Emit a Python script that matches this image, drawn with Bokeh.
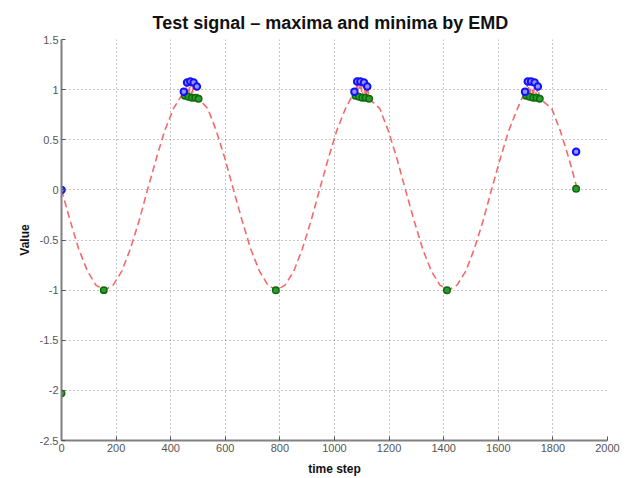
from bokeh.plotting import figure
from bokeh.models import FixedTicker, Range1d
from bokeh.embed import file_html
from bokeh.resources import INLINE

# Test signal samples (time step, value), with the ripple around each crest
signal_t = [0, 32, 63, 95, 126, 158, 189, 221, 252, 284, 315, 347, 378, 410,
            448, 452, 460, 465, 472, 478, 484, 490, 496, 502,
            536, 567, 599, 630, 662, 693, 725, 756, 788, 819, 851, 882, 914,
            945, 977, 1008, 1040,
            1073, 1077, 1083, 1090, 1095, 1102, 1108, 1114, 1120, 1127,
            1166, 1197, 1229, 1260, 1292, 1323, 1355, 1386, 1418, 1449, 1481,
            1512, 1544, 1575, 1607, 1638, 1670,
            1698, 1702, 1708, 1715, 1720, 1728, 1733, 1740, 1745, 1752,
            1796, 1827, 1859, 1890]
signal_v = [0.0, -0.31, -0.59, -0.81, -0.95, -1.0, -0.95, -0.81, -0.59, -0.31, 0.0, 0.31, 0.59, 0.81,
            0.98, 0.94, 1.07, 0.93, 1.08, 0.92, 1.07, 0.92, 1.03, 0.91,
            0.81, 0.59, 0.31, 0.0, -0.31, -0.59, -0.81, -0.95, -1.0, -0.95, -0.81, -0.59, -0.31,
            0.0, 0.31, 0.59, 0.81,
            0.98, 0.94, 1.08, 0.93, 1.08, 0.92, 1.07, 0.92, 1.03, 0.91,
            0.81, 0.59, 0.31, 0.0, -0.31, -0.59, -0.81, -0.95, -1.0, -0.95, -0.81,
            -0.59, -0.31, 0.0, 0.31, 0.59, 0.81,
            0.98, 0.94, 1.08, 0.93, 1.08, 0.92, 1.07, 0.92, 1.03, 0.91,
            0.81, 0.59, 0.31, 0.0]

# Extrema found by EMD
max_t = [0, 448, 460, 472, 484, 496, 1073, 1083, 1095, 1108, 1120,
         1698, 1708, 1720, 1733, 1745, 1885]
max_v = [0.0, 0.98, 1.07, 1.08, 1.07, 1.03, 0.98, 1.08, 1.08, 1.07, 1.03,
         0.98, 1.08, 1.08, 1.07, 1.03, 0.38]
min_t = [0, 155, 452, 465, 478, 490, 502, 785, 1077, 1090, 1102, 1114, 1127,
         1412, 1702, 1715, 1728, 1740, 1752, 1885]
min_v = [-2.03, -1.0, 0.94, 0.93, 0.92, 0.92, 0.91, -1.0, 0.94, 0.93, 0.92, 0.92, 0.91,
         -1.0, 0.94, 0.93, 0.92, 0.92, 0.91, 0.01]

x_ticks = [0, 200, 400, 600, 800, 1000, 1200, 1400, 1600, 1800, 2000]
y_ticks = [-2.5, -2, -1.5, -1, -0.5, 0, 0.5, 1, 1.5]
y_tick_labels = ["-2.5", "-2", "-1.5", "-1", "-0.5", "0", "0.5", "1", "1.5"]

FONT = "Liberation Sans"

p = figure(width=626, height=478, output_backend="svg", toolbar_location=None,
           x_range=Range1d(0, 2000), y_range=Range1d(-2.5, 1.5),
           min_border_left=61, min_border_right=19, min_border_top=39, min_border_bottom=37,
           title="Test signal \u2013 maxima and minima by EMD")
p.outline_line_color = None
p.background_fill_color = "white"
p.border_fill_color = "white"

p.title.text_font = FONT
p.title.text_font_style = "bold"
p.title.text_font_size = "18px"
p.title.align = "left"
p.title.offset = 91
p.title.vertical_align = "top"
p.title.text_color = "#111111"

for ax in (p.xaxis[0], p.yaxis[0]):
    ax.axis_line_color = "#808080"
    ax.axis_line_width = 2
    ax.major_tick_line_color = "#555555"
    ax.major_tick_in = 4
    ax.major_tick_out = 0
    ax.minor_tick_line_color = None
    ax.major_label_text_font = FONT
    ax.major_label_text_font_size = "11px"
    ax.major_label_text_color = "#555555"
    ax.axis_label_text_font = FONT
    ax.axis_label_text_font_style = "bold"
    ax.axis_label_text_font_size = "12px"
    ax.axis_label_text_color = "#111111"

p.xaxis.ticker = FixedTicker(ticks=x_ticks)
p.yaxis.ticker = FixedTicker(ticks=y_ticks)
p.yaxis.major_label_overrides = {t: s for t, s in zip(y_ticks, y_tick_labels)}
p.xaxis.axis_label = "time step"
p.yaxis.axis_label = "Value"
p.xaxis.major_label_standoff = 3
p.yaxis.major_label_standoff = 3
p.xaxis.axis_label_standoff = 7
p.yaxis.axis_label_standoff = 5

p.grid.grid_line_color = "#8c8c8c"
p.grid.grid_line_dash = "1 3"
p.grid.grid_line_width = 1

p.line(signal_t, signal_v, line_color="#f46a6a", line_width=1.6, line_dash="7 4")

p.scatter(min_t, min_v, size=6.5, marker="circle", line_color="#0b6b0b", line_width=1.5,
          fill_color="#2f9a2f")
p.scatter(max_t, max_v, size=6.5, marker="circle", line_color="#1010ff", line_width=2,
          fill_color="#9090ff")

open("out.html", "w").write(file_html(p, INLINE))
